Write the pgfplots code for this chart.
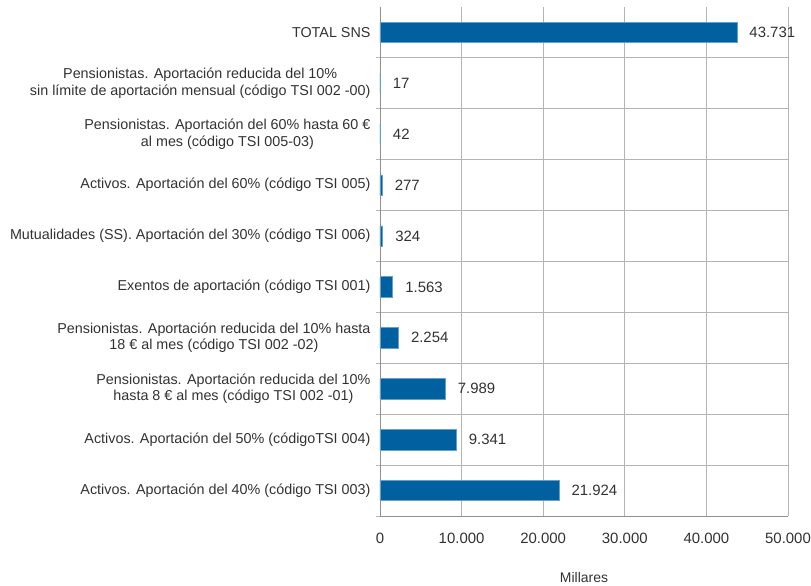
\documentclass[border=0pt]{standalone}
\usepackage{fontspec}
\setmainfont{Liberation Sans}
\usepackage{pgfplots}
\pgfplotsset{compat=1.18}
\definecolor{barblue}{RGB}{0,96,160}
\definecolor{txt}{RGB}{50,50,50}
\definecolor{gridc}{RGB}{180,180,180}
\pgfkeys{/pgf/number format/.cd,assume math mode=true,1000 sep={.},dec sep={,}}
\begin{document}
\begin{tikzpicture}
\path[use as bounding box] (-380bp,-70bp) rectangle (431bp,516bp);
\begin{axis}[
  at={(0,0)}, anchor=south west,
  scale only axis, width=408bp, height=509bp,
  xbar, bar width=0.4,
  xmin=0, xmax=50000, ymin=-0.5, ymax=9.5,
  xtick={0,10000,...,50000},
  scaled x ticks=false,
  xticklabel={\pgfmathprintnumber[fixed,precision=0]{\tick}},
  ytick={0,...,9},
  yticklabels={
    {Activos. Aportación del 40\% (código TSI 003)},
    {Activos. Aportación del 50\% (códigoTSI 004)},
    {Pensionistas. Aportación reducida del 10\%\\hasta 8 € al mes (código TSI 002 -01)},
    {Pensionistas. Aportación reducida del 10\% hasta\\18 € al mes (código TSI 002 -02)},
    {Exentos de aportación (código TSI 001)},
    {Mutualidades (SS). Aportación del 30\% (código TSI 006)},
    {Activos. Aportación del 60\% (código TSI 005)},
    {Pensionistas. Aportación del 60\% hasta 60 €\\al mes (código TSI 005-03)},
    {Pensionistas. Aportación reducida del 10\%\\sin límite de aportación mensual (código TSI 002 -00)},
    {TOTAL SNS}},
  minor ytick={-0.5,0.5,...,8.5},
  ymajorgrids=false, yminorgrids=true, xmajorgrids=true,
  grid style={gridc, line width=0.8pt},
  minor grid style={gridc, line width=0.8pt},
  major tick length=0pt,
  minor tick length=4bp,
  tick align=outside,
  minor tick style={gridc, line width=0.8pt},
  axis lines*=left,
  axis line style={gridc!80!black, line width=0.8pt},
  yticklabel style={align=center, font=\fontsize{14.4}{16.5}\selectfont, text=txt, xshift=-6bp},
  xticklabel style={font=\fontsize{15}{17}\selectfont, text=txt, yshift=-14bp},
  xlabel={Millares},
  xlabel style={at={(axis description cs:0.5,0)}, anchor=center, yshift=-62bp, font=\fontsize{14}{16}\selectfont, text=txt},
  point meta=x,
  nodes near coords={\pgfmathprintnumber[fixed,precision=0]{\pgfplotspointmeta}},
  nodes near coords style={anchor=west, xshift=9bp, font=\fontsize{15}{17}\selectfont, text=txt},
]
\addplot[fill=barblue, draw=barblue!60!white, line width=0.6pt] coordinates {
  (21924,0) (9341,1) (7989,2) (2254,3) (1563,4) (324,5) (277,6) (42,7) (17,8) (43731,9)
};
\end{axis}
\end{tikzpicture}
\end{document}
